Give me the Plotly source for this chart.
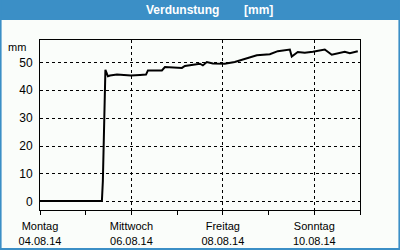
import plotly.graph_objects as go

# data
times = [
    "2014-08-04 00:00", "2014-08-05 08:30", "2014-08-05 09:00", "2014-08-05 09:35",
    "2014-08-05 10:20", "2014-08-05 11:40", "2014-08-05 12:45", "2014-08-05 16:25",
    "2014-08-05 20:35", "2014-08-05 23:45", "2014-08-06 04:30", "2014-08-06 07:40",
    "2014-08-06 08:40", "2014-08-06 16:00", "2014-08-06 17:35", "2014-08-07 02:30",
    "2014-08-07 04:05", "2014-08-07 11:55", "2014-08-07 13:30", "2014-08-07 15:35",
    "2014-08-07 18:45", "2014-08-08 01:00", "2014-08-08 06:15", "2014-08-08 11:30",
    "2014-08-08 17:50", "2014-08-09 00:40", "2014-08-09 04:50", "2014-08-09 11:10",
    "2014-08-09 12:10", "2014-08-09 15:20", "2014-08-09 19:00", "2014-08-09 23:15",
    "2014-08-10 05:30", "2014-08-10 09:10", "2014-08-10 16:00", "2014-08-10 18:40",
    "2014-08-10 22:50",
]
values = [
    0.3, 0.3, 7.5, 31.0,
    47.3, 45.0, 45.3, 45.6,
    45.5, 45.3, 45.5, 45.6,
    47.1, 47.1, 48.3, 48.0,
    48.7, 49.5, 48.9, 50.1,
    49.6, 49.5, 50.1, 51.3,
    52.5, 52.9, 54.0, 54.6,
    52.1, 53.7, 53.4, 53.8,
    54.6, 52.7, 53.8, 53.3,
    54.0,
]
tick_dates = ["2014-08-04", "2014-08-06", "2014-08-08", "2014-08-10"]
tick_labels = ["Montag<br>04.08.14", "Mittwoch<br>06.08.14", "Freitag<br>08.08.14", "Sonntag<br>10.08.14"]
y_ticks = [0, 10, 20, 30, 40, 50]
title_main = "Verdunstung"
title_unit = "[mm]"
unit_label = "mm"

BG = "#fafdfa"
BLUE = "#3b8fc6"
FONT = "Liberation Sans"

fig = go.Figure()
fig.add_trace(go.Scatter(x=times, y=values, mode="lines",
                         line=dict(color="black", width=2), hoverinfo="skip"))

fig.update_layout(
    width=400, height=250,
    margin=dict(l=40, r=40, t=40, b=40, autoexpand=False),
    paper_bgcolor=BG, plot_bgcolor=BG,
    showlegend=False,
    font=dict(family=FONT, size=11, color="black"),
    xaxis=dict(
        type="date", range=["2014-08-04", "2014-08-11"],
        tickvals=tick_dates, ticktext=tick_labels,
        showgrid=True, gridcolor="black", griddash="3px,3px", gridwidth=1,
        showline=True, linecolor="black", linewidth=1, mirror=True,
        ticks="outside", ticklen=4, tickcolor="black",
        minor=dict(dtick=86400000, ticks="outside", ticklen=4, tickcolor="black", showgrid=False),
        tickfont=dict(family=FONT, size=11, color="black"),
        ticklabelstandoff=2,
        zeroline=False, fixedrange=True, automargin=False,
    ),
    yaxis=dict(
        range=[-2.9, 58], tickvals=y_ticks,
        showgrid=True, gridcolor="black", griddash="3px,3px", gridwidth=1,
        showline=True, linecolor="black", linewidth=1, mirror=True,
        ticks="", ticklabelstandoff=4,
        tickfont=dict(family=FONT, size=12, color="black"),
        zeroline=False, fixedrange=True, automargin=False,
    ),
    shapes=[
        dict(type="rect", xref="paper", yref="paper", x0=-0.13, x1=1.13, y0=1.118, y1=1.25,
             fillcolor=BLUE, line=dict(width=0), layer="above"),
        dict(type="rect", xref="paper", yref="paper", x0=-0.13, x1=-0.12, y0=-0.25, y1=1.25,
             fillcolor=BLUE, line=dict(width=0), layer="above"),
        dict(type="rect", xref="paper", yref="paper", x0=1.12, x1=1.13, y0=-0.25, y1=1.25,
             fillcolor=BLUE, line=dict(width=0), layer="above"),
        dict(type="rect", xref="paper", yref="paper", x0=-0.13, x1=1.13, y0=-0.25, y1=-0.2235,
             fillcolor=BLUE, line=dict(width=0), layer="above"),
    ],
    annotations=[
        dict(text=title_main, xref="paper", yref="paper", x=0.445, y=1.176, showarrow=False,
             xanchor="center", yanchor="middle",
             font=dict(family=FONT, size=12, color="white", weight="bold")),
        dict(text=title_unit, xref="paper", yref="paper", x=0.683, y=1.176, showarrow=False,
             xanchor="center", yanchor="middle",
             font=dict(family=FONT, size=12, color="white", weight="bold")),
        dict(text=unit_label, xref="paper", yref="paper", x=-0.038, y=0.96, showarrow=False,
             xanchor="right", yanchor="middle",
             font=dict(family=FONT, size=11, color="black")),
    ],
)

fig.write_html("out.html")
